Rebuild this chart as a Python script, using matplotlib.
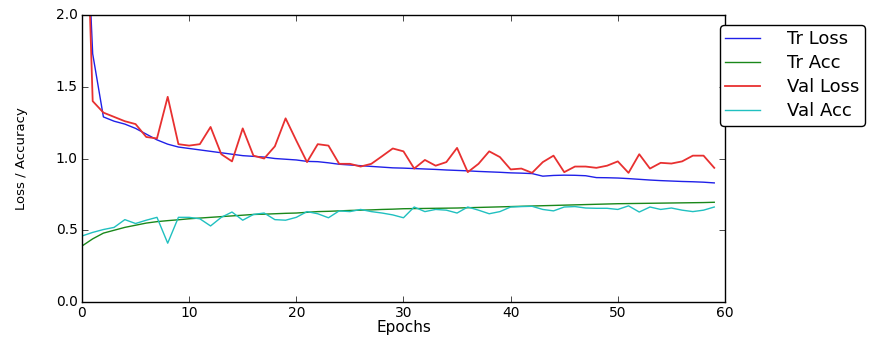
import matplotlib
matplotlib.use("Agg")
import matplotlib.pyplot as plt

# values
epochs = list(range(60))

tr_loss = [3.4, 1.73, 1.29, 1.26, 1.24, 1.21, 1.17, 1.13, 1.10, 1.08,
           1.07, 1.06, 1.05, 1.04, 1.03, 1.02, 1.015, 1.01, 1.0, 0.995,
           0.99, 0.98, 0.978, 0.97, 0.96, 0.955, 0.95, 0.945, 0.94, 0.935,
           0.933, 0.93, 0.927, 0.924, 0.92, 0.917, 0.914, 0.91, 0.907, 0.904,
           0.90, 0.898, 0.895, 0.877, 0.882, 0.884, 0.883, 0.88, 0.867, 0.866,
           0.864, 0.86, 0.855, 0.85, 0.846, 0.843, 0.84, 0.838, 0.835, 0.83]

tr_acc = [0.39, 0.44, 0.48, 0.50, 0.52, 0.535, 0.55, 0.56, 0.567, 0.573,
          0.58, 0.585, 0.59, 0.595, 0.60, 0.605, 0.61, 0.612, 0.615, 0.618,
          0.62, 0.625, 0.63, 0.632, 0.635, 0.638, 0.64, 0.642, 0.645, 0.647,
          0.65, 0.651, 0.652, 0.653, 0.654, 0.655, 0.657, 0.659, 0.661, 0.663,
          0.665, 0.667, 0.669, 0.671, 0.673, 0.675, 0.677, 0.679, 0.681, 0.683,
          0.685, 0.686, 0.687, 0.688, 0.689, 0.69, 0.691, 0.692, 0.693, 0.695]

val_loss = [3.8, 1.40, 1.32, 1.29, 1.26, 1.24, 1.15, 1.14, 1.43, 1.10,
            1.09, 1.10, 1.22, 1.03, 0.98, 1.21, 1.02, 1.0, 1.085, 1.28,
            1.125, 0.975, 1.10, 1.09, 0.963, 0.963, 0.944, 0.963, 1.016, 1.07,
            1.05, 0.93, 0.99, 0.95, 0.975, 1.074, 0.905, 0.963, 1.05, 1.01,
            0.924, 0.93, 0.90, 0.975, 1.02, 0.905, 0.944, 0.944, 0.935, 0.95,
            0.98, 0.90, 1.03, 0.93, 0.97, 0.965, 0.98, 1.02, 1.02, 0.935]

val_acc = [0.46, 0.485, 0.505, 0.52, 0.574, 0.547, 0.57, 0.59, 0.41, 0.59,
           0.59, 0.58, 0.53, 0.59, 0.627, 0.57, 0.61, 0.62, 0.574, 0.57,
           0.59, 0.63, 0.615, 0.587, 0.635, 0.63, 0.645, 0.63, 0.62, 0.607,
           0.587, 0.662, 0.63, 0.645, 0.64, 0.62, 0.662, 0.64, 0.615, 0.63,
           0.662, 0.665, 0.667, 0.645, 0.635, 0.662, 0.665, 0.655, 0.653, 0.653,
           0.645, 0.67, 0.627, 0.662, 0.645, 0.655, 0.64, 0.63, 0.64, 0.662]

plt.style.use("classic")
plt.rcParams["font.family"] = "DejaVu Sans"

fig = plt.figure(figsize=(8.89, 3.42), dpi=100, facecolor="white")
ax = fig.add_axes([0.0922, 0.117, 0.7233, 0.839])
ax.set_facecolor("white")

ax.plot(epochs, tr_loss, color="#2020e8", lw=1.0, label="Tr Loss")
ax.plot(epochs, tr_acc, color="#1a881a", lw=1.0, label="Tr Acc")
ax.plot(epochs, val_loss, color="#e83030", lw=1.3, label="Val Loss")
ax.plot(epochs, val_acc, color="#20c0c0", lw=1.0, label="Val Acc")

ax.set_xlim(0, 60)
ax.set_ylim(0, 2.0)
ax.set_xticks(range(0, 61, 10))
ax.set_yticks([0.0, 0.5, 1.0, 1.5, 2.0])
ax.tick_params(labelsize=10, pad=3)
ax.set_xlabel("Epochs", fontsize=11, labelpad=0)
ax.set_ylabel("Loss / Accuracy", fontsize=9.5, labelpad=20)

leg = ax.legend(loc="upper left", bbox_to_anchor=(720 / 889, 1 - 25 / 342),
                bbox_transform=fig.transFigure, borderaxespad=0,
                fancybox=True, fontsize=13, handlelength=1.9,
                handletextpad=1.5, borderpad=0.3,
                labelspacing=0.33, numpoints=1)
leg.get_frame().set_linewidth(1.0)

fig.savefig("out.png", dpi=100, facecolor="white")
